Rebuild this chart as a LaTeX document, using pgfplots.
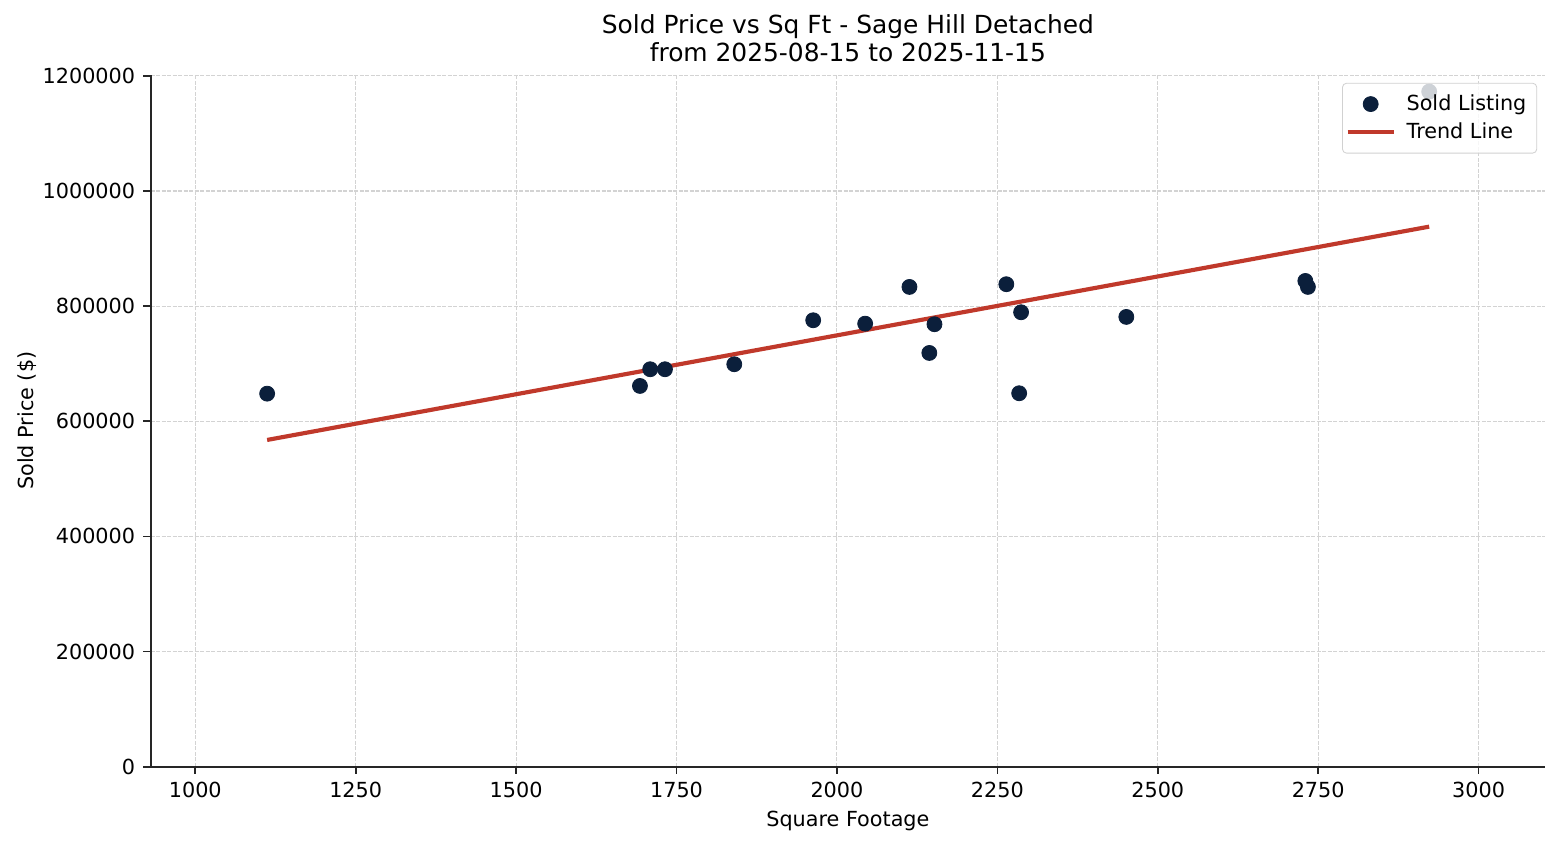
\documentclass[border=0pt]{standalone}
\usepackage{fontspec}
\setmainfont{DejaVu Sans}
\usepackage{pgfplots}
\pgfplotsset{compat=1.18}
\definecolor{soldnavy}{HTML}{0B1F3B}
\definecolor{trendred}{HTML}{C0392B}
\definecolor{gridgray}{HTML}{D3D3D3}

\begin{document}
\begin{tikzpicture}
\begin{axis}[
    scale only axis,
    width=671.8pt,
    height=333.4pt,
    xmin=930.5, xmax=3103.6,
    ymin=0, ymax=1202000,
    xtick={1000,1250,...,3000},
    ytick={0,200000,...,1200000},
    scaled ticks=false,
    /pgf/number format/.cd, fixed, 1000 sep={}, assume math mode=true,
    /pgfplots/.cd,
    axis x line*=bottom,
    axis y line*=left,
    axis line style={-, black!85, line width=0.8pt},
    tick align=outside,
    major tick length=3.5pt,
    tick style={black!85, line width=0.8pt},
    tick label style={font=\fontsize{10}{12}\selectfont},
    xticklabel style={anchor=base, inner sep=0pt, yshift=-11.5pt},
    yticklabel style={anchor=east, inner sep=0pt, xshift=-3.8pt},
    grid=major,
    major grid style={gridgray, line width=0.5pt, dash pattern=on 1.85pt off 0.8pt},
    title={Sold Price vs Sq Ft - Sage Hill Detached\\from 2025-08-15 to 2025-11-15},
    title style={at={(0.5,1)}, anchor=south, inner sep=0pt, yshift=-0.2pt,
        align=center, font=\fontsize{12}{13.5}\selectfont},
    xlabel={Square Footage},
    ylabel={Sold Price (\$)},
    xlabel style={at={(0.5,-0.0857)}, anchor=base, inner sep=0pt,
        font=\fontsize{10}{12}\selectfont},
    ylabel style={at={(-0.0844,0.5)}, anchor=base, rotate=0, inner sep=0pt,
        font=\fontsize{10}{12}\selectfont},
    legend style={at={(1,1)}, anchor=north east, xshift=-3.8pt, yshift=-3.9pt,
        draw=black!18, rounded corners=2pt, fill=white, fill opacity=0.8,
        text opacity=1, font=\fontsize{10}{12}\selectfont,
        inner xsep=1.5pt, inner ysep=4pt, row sep=1.5pt,
        nodes={inner sep=1.5pt}},
    legend cell align=left,
    legend image code/.code={
        \draw[mark repeat=2, mark phase=2, fill opacity=1, draw opacity=1, #1]
        plot coordinates {(0pt,0pt) (11.1pt,0pt) (22.2pt,0pt)};
    },
]
\addplot[trendred, line width=2pt, forget plot] coordinates {
    (1112,567600) (2923,938100)
};
\addplot[only marks, mark=*, mark size=3.6pt, color=soldnavy] coordinates {
    (1112,648000) (1693,661400) (1709,690400) (1732,690400) (1840,699100)
    (1963,775500) (2044,769600) (2113,833400) (2144,718700) (2152,768600)
    (2264,838100) (2284,648700) (2287,789400) (2451,781300) (2730,843800)
    (2734,833400) (2923,1172700)
};
\addlegendentry{\kern3.7pt Sold Listing\kern2pt}
\addlegendimage{trendred, line width=2pt}
\addlegendentry{\kern3.7pt Trend Line}
\end{axis}
\path ([xshift=-72.6pt, yshift=-37.7pt]current axis.south west)
    rectangle ++(751.6pt,407.1pt);
\end{tikzpicture}
\end{document}
